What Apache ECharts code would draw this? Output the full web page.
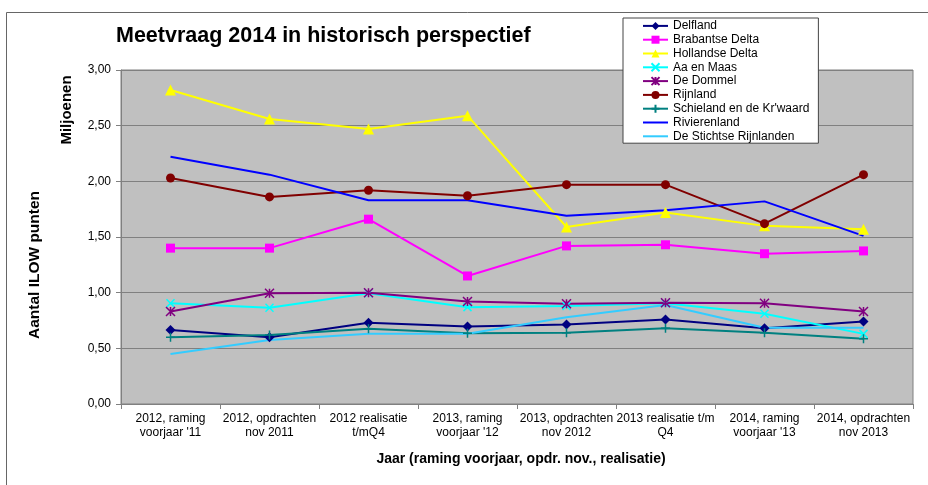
<!DOCTYPE html>
<html>
<head>
<meta charset="utf-8">
<script src="https://cdn.jsdelivr.net/npm/echarts@6/dist/echarts.min.js"></script>
<style>
html,body{margin:0;padding:0;background:#fff;}
#chart{width:928px;height:485px;}
</style>
</head>
<body>
<div id="chart"></div>
<script>
const categories = [
  "2012, raming\nvoorjaar '11",
  "2012, opdrachten\nnov 2011",
  "2012 realisatie\nt/mQ4",
  "2013, raming\nvoorjaar '12",
  "2013, opdrachten\nnov 2012",
  "2013 realisatie t/m\nQ4",
  "2014, raming\nvoorjaar '13",
  "2014, opdrachten\nnov 2013"
];
const delfland      = [0.665, 0.60, 0.73, 0.695, 0.715, 0.76, 0.68, 0.74];
const brabantse     = [1.40, 1.40, 1.66, 1.15, 1.42, 1.43, 1.35, 1.375];
const hollandse     = [2.82, 2.56, 2.47, 2.59, 1.59, 1.72, 1.60, 1.57];
const aaEnMaas      = [0.905, 0.865, 0.995, 0.87, 0.88, 0.905, 0.81, 0.63];
const deDommel      = [0.83, 0.995, 1.0, 0.92, 0.90, 0.91, 0.905, 0.83];
const rijnland      = [2.03, 1.86, 1.92, 1.87, 1.97, 1.97, 1.62, 2.06];
const schieland     = [0.60, 0.62, 0.675, 0.635, 0.64, 0.68, 0.64, 0.585];
const rivierenland  = [2.22, 2.06, 1.83, 1.83, 1.69, 1.74, 1.82, 1.51];
const stichtse      = [0.45, 0.575, 0.63, 0.63, 0.78, 0.89, 0.685, 0.685];
const seriesNames = ["Delfland","Brabantse Delta","Hollandse Delta","Aa en Maas","De Dommel","Rijnland","Schieland en de Kr'waard","Rivierenland","De Stichtse Rijnlanden"];

const FONT = "'Liberation Sans', Arial, sans-serif";
const chart = echarts.init(document.getElementById('chart'), null, {renderer:'canvas'});

function mk(name, data, color, symbol, size, stroke) {
  const s = {
    name: name, type: 'line', data: data,
    symbol: symbol, symbolSize: size,
    lineStyle: {color: color, width: 2},
    itemStyle: {color: color},
    emphasis: {disabled: true},
    animation: false
  };
  if (stroke) {
    s.itemStyle = {color: color, borderColor: color, borderWidth: 1.5};
  }
  return s;
}

const legendData = seriesNames.map((n, i) =>
  (i >= 7) ? {name: n, itemStyle: {opacity: 0}} : {name: n});

const option = {
  animation: false,
  backgroundColor: '#fff',
  textStyle: {fontFamily: FONT},
  title: {
    text: 'Meetvraag 2014 in historisch perspectief',
    left: 111, top: 20,
    textStyle: {fontFamily: FONT, fontSize: 21.5, fontWeight: 'bold', color: '#000'}
  },
  legend: {
    orient: 'vertical',
    left: 623, top: 18,
    padding: [1, 9, 0, 19],
    itemGap: 0,
    itemWidth: 25, itemHeight: 10,
    backgroundColor: '#fff',
    borderColor: '#444', borderWidth: 1,
    textStyle: {fontFamily: FONT, fontSize: 12, color: '#000', lineHeight: 13.8},
    data: legendData
  },
  grid: {
    left: 121, right: 15, top: 70, bottom: 81,
    show: true, backgroundColor: '#c0c0c0', borderColor: '#808080', borderWidth: 1
  },
  xAxis: {
    type: 'category', data: categories, boundaryGap: true,
    axisLine: {lineStyle: {color: '#808080', width: 1}},
    axisTick: {show: true, length: 5, lineStyle: {color: '#808080'}},
    axisLabel: {interval: 0, color: '#000', fontSize: 12, fontFamily: FONT, lineHeight: 14, margin: 8}
  },
  yAxis: {
    type: 'value', min: 0, max: 3, interval: 0.5,
    axisLine: {show: true, lineStyle: {color: '#808080', width: 1}},
    axisTick: {show: true, length: 5, lineStyle: {color: '#808080'}},
    splitLine: {lineStyle: {color: '#808080', width: 1}},
    axisLabel: {color: '#000', fontSize: 12, fontFamily: FONT, margin: 10,
      formatter: v => v.toFixed(2).replace('.', ',')}
  },
  graphic: [
    {type: 'polyline', z: -10, shape: {points: [[6.5, 490], [6.5, 12.5], [930, 12.5]]},
     style: {stroke: '#666', lineWidth: 1, fill: null}},
    {type: 'text', x: 67, y: 110, rotation: Math.PI / 2,
     style: {text: 'Miljoenen', font: "bold 15px 'Liberation Sans', Arial, sans-serif", fill: '#000', textAlign: 'center', textVerticalAlign: 'middle'}},
    {type: 'text', x: 35, y: 265, rotation: Math.PI / 2,
     style: {text: 'Aantal ILOW punten', font: "bold 15.5px 'Liberation Sans', Arial, sans-serif", fill: '#000', textAlign: 'center', textVerticalAlign: 'middle'}},
    {type: 'text', x: 521, y: 459,
     style: {text: 'Jaar (raming voorjaar, opdr. nov., realisatie)', font: "bold 14px 'Liberation Sans', Arial, sans-serif", fill: '#000', textAlign: 'center', textVerticalAlign: 'middle'}}
  ],
  series: [
    mk(seriesNames[0], delfland, '#000080', 'diamond', 10),
    mk(seriesNames[1], brabantse, '#ff00ff', 'rect', 9),
    mk(seriesNames[2], hollandse, '#ffff00', 'triangle', 11),
    mk(seriesNames[3], aaEnMaas, '#00ffff', 'path://M0,0L10,10M10,0L0,10', 8, true),
    mk(seriesNames[4], deDommel, '#800080', 'path://M0,0L10,10M10,0L0,10M5,0L5,10', 9, true),
    mk(seriesNames[5], rijnland, '#800000', 'circle', 9),
    mk(seriesNames[6], schieland, '#008080', 'path://M5,0L5,10M0,5L10,5', 9, true),
    mk(seriesNames[7], rivierenland, '#0000ff', 'none', 0),
    mk(seriesNames[8], stichtse, '#33ccff', 'none', 0)
  ]
};
chart.setOption(option);
</script>
</body>
</html>
